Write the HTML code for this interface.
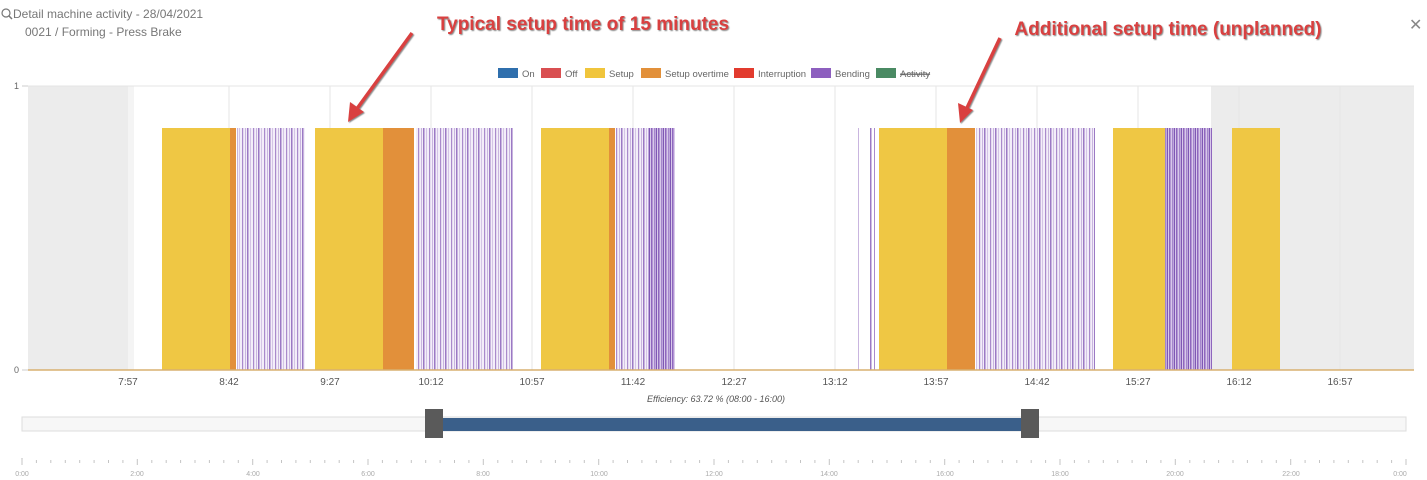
<!DOCTYPE html>
<html><head><meta charset="utf-8"><style>
body{margin:0;background:#fff;width:1427px;height:480px;overflow:hidden;font-family:"Liberation Sans",sans-serif;}
svg{position:absolute;left:0;top:0}
</style></head><body>
<svg width="1427" height="480" viewBox="0 0 1427 480">
<defs>
<pattern id="p1" width="11" height="10" patternUnits="userSpaceOnUse">
<rect width="11" height="10" fill="#f3eef9"/>
<rect x="0" width="1.2" height="10" fill="#a98acb"/>
<rect x="3" width="1" height="10" fill="#c9b5df"/>
<rect x="5" width="1.5" height="10" fill="#9b79c4"/>
<rect x="8" width="1" height="10" fill="#d4c4e6"/>
</pattern>
<pattern id="p2" width="7" height="10" patternUnits="userSpaceOnUse">
<rect width="7" height="10" fill="#d8c8ea"/>
<rect x="0" width="1.5" height="10" fill="#8e66bd"/>
<rect x="3" width="1.5" height="10" fill="#a586cc"/>
<rect x="5" width="1" height="10" fill="#7f58b4"/>
</pattern>
<filter id="sh"><feDropShadow dx="1" dy="1" stdDeviation="0.6" flood-color="#888"/></filter>
</defs>
<!-- header -->
<circle cx="6" cy="13" r="4" fill="none" stroke="#777" stroke-width="1.2"/><line x1="9" y1="16" x2="12" y2="19" stroke="#777" stroke-width="1.5"/>
<text x="13" y="18" font-size="12" fill="#777">Detail machine activity - 28/04/2021</text>
<text x="25" y="36" font-size="12" fill="#777">0021 / Forming - Press Brake</text>
<text x="1409" y="30" font-size="16" fill="#888">✕</text>
<!-- legend -->
<g font-size="9.5" fill="#666">
<rect x="498" y="68" width="20" height="10" fill="#2f6fad"/><text x="522" y="77">On</text>
<rect x="541" y="68" width="20" height="10" fill="#d94f51"/><text x="565" y="77">Off</text>
<rect x="585" y="68" width="20" height="10" fill="#f0c53c"/><text x="609" y="77">Setup</text>
<rect x="641" y="68" width="20" height="10" fill="#e2903a"/><text x="665" y="77">Setup overtime</text>
<rect x="734" y="68" width="20" height="10" fill="#e23b2e"/><text x="758" y="77">Interruption</text>
<rect x="811" y="68" width="20" height="10" fill="#8d5fbf"/><text x="835" y="77">Bending</text>
<rect x="876" y="68" width="20" height="10" fill="#4a8a63"/><text x="900" y="77" text-decoration="line-through">Activity</text>
<line x1="900" y1="74" x2="930" y2="74" stroke="#666" stroke-width="0.8"/>
</g>
<!-- plot bg -->
<rect x="28" y="86" width="100" height="284" fill="#ececec"/>
<rect x="128" y="86" width="6" height="284" fill="#f4f4f4"/>
<rect x="1211" y="86" width="203" height="284" fill="#ececec"/>
<line x1="28" y1="86" x2="1414" y2="86" stroke="#e4e4e4"/>
<g stroke="#e6e6e6">
<line x1="229" y1="86" x2="229" y2="370"/><line x1="330" y1="86" x2="330" y2="370"/><line x1="431" y1="86" x2="431" y2="370"/><line x1="532" y1="86" x2="532" y2="370"/><line x1="633" y1="86" x2="633" y2="370"/><line x1="734" y1="86" x2="734" y2="370"/><line x1="835" y1="86" x2="835" y2="370"/><line x1="936" y1="86" x2="936" y2="370"/><line x1="1037" y1="86" x2="1037" y2="370"/><line x1="1138" y1="86" x2="1138" y2="370"/><line x1="1239" y1="86" x2="1239" y2="370"/><line x1="1340" y1="86" x2="1340" y2="370"/>
</g>
<!-- bars -->
<g>
<rect x="162" y="128" width="68" height="242" fill="#efc744"/><rect x="230" y="128" width="6" height="242" fill="#e2903a"/>
<rect x="237" y="128" width="68" height="242" fill="url(#p1)"/>
<rect x="315" y="128" width="68" height="242" fill="#efc744"/><rect x="383" y="128" width="31" height="242" fill="#e2903a"/>
<rect x="416" y="128" width="97" height="242" fill="url(#p1)"/>
<rect x="541" y="128" width="68" height="242" fill="#efc744"/><rect x="609" y="128" width="6" height="242" fill="#e2903a"/>
<rect x="616" y="128" width="32" height="242" fill="url(#p1)"/><rect x="648" y="128" width="27" height="242" fill="url(#p2)"/>
<rect x="858" y="128" width="1" height="242" fill="#c9b5df"/><rect x="870" y="128" width="1.5" height="242" fill="#9b79c4"/><rect x="874" y="128" width="1" height="242" fill="#a98acb"/>
<rect x="879" y="128" width="68" height="242" fill="#efc744"/><rect x="947" y="128" width="28" height="242" fill="#e2903a"/>
<rect x="976" y="128" width="119" height="242" fill="url(#p1)"/>
<rect x="1113" y="128" width="52" height="242" fill="#efc744"/>
<rect x="1165" y="128" width="47" height="242" fill="url(#p2)"/>
<rect x="1232" y="128" width="48" height="242" fill="#efc744"/>
</g>
<line x1="28" y1="370" x2="1414" y2="370" stroke="#d8b070" stroke-width="1.5"/>
<g font-size="9" fill="#666"><text x="14" y="89">1</text><text x="14" y="373">0</text></g>
<line x1="22" y1="86" x2="28" y2="86" stroke="#ccc"/><line x1="22" y1="370" x2="28" y2="370" stroke="#ccc"/>
<g font-size="10" fill="#555" text-anchor="middle">
<text x="128" y="385">7:57</text><text x="229" y="385">8:42</text><text x="330" y="385">9:27</text><text x="431" y="385">10:12</text><text x="532" y="385">10:57</text><text x="633" y="385">11:42</text><text x="734" y="385">12:27</text><text x="835" y="385">13:12</text><text x="936" y="385">13:57</text><text x="1037" y="385">14:42</text><text x="1138" y="385">15:27</text><text x="1239" y="385">16:12</text><text x="1340" y="385">16:57</text>
</g>
<text x="716" y="402" font-size="9" fill="#555" font-style="italic" text-anchor="middle">Efficiency: 63.72 % (08:00 - 16:00)</text>
<!-- navigator -->
<rect x="22" y="417" width="1384" height="14" fill="#f7f7f7" stroke="#ddd"/>
<rect x="443" y="418" width="578" height="13" fill="#3a5f8a"/>
<rect x="425" y="409" width="18" height="29" fill="#5a5a5a"/>
<rect x="1021" y="409" width="18" height="29" fill="#5a5a5a"/>
<g id="ticks" stroke="#bbb"></g>
<path d="M22 458v6 M22 458" stroke="#bbb"/>
<g stroke="#c4c4c4" stroke-width="1">
<path d="M22 459v6M36.4 460v3M50.8 460v3M65.3 460v3M79.7 460v3M94.1 460v3M108.5 460v3M122.9 460v3M137.3 459v6M151.8 460v3M166.2 460v3M180.6 460v3M195 460v3M209.4 460v3M223.8 460v3M238.3 460v3M252.7 459v6M267.1 460v3M281.5 460v3M295.9 460v3M310.3 460v3M324.8 460v3M339.2 460v3M353.6 460v3M368 459v6M382.4 460v3M396.8 460v3M411.3 460v3M425.7 460v3M440.1 460v3M454.5 460v3M468.9 460v3M483.3 459v6M497.8 460v3M512.2 460v3M526.6 460v3M541 460v3M555.4 460v3M569.8 460v3M584.3 460v3M598.7 459v6M613.1 460v3M627.5 460v3M641.9 460v3M656.3 460v3M670.8 460v3M685.2 460v3M699.6 460v3M714 459v6M728.4 460v3M742.8 460v3M757.3 460v3M771.7 460v3M786.1 460v3M800.5 460v3M814.9 460v3M829.3 459v6M843.8 460v3M858.2 460v3M872.6 460v3M887 460v3M901.4 460v3M915.8 460v3M930.3 460v3M944.7 459v6M959.1 460v3M973.5 460v3M987.9 460v3M1002.3 460v3M1016.8 460v3M1031.2 460v3M1045.6 460v3M1060 459v6M1074.4 460v3M1088.8 460v3M1103.3 460v3M1117.7 460v3M1132.1 460v3M1146.5 460v3M1160.9 460v3M1175.3 459v6M1189.8 460v3M1204.2 460v3M1218.6 460v3M1233 460v3M1247.4 460v3M1261.8 460v3M1276.3 460v3M1290.7 459v6M1305.1 460v3M1319.5 460v3M1333.9 460v3M1348.3 460v3M1362.8 460v3M1377.2 460v3M1391.6 460v3M1406 459v6"/>
</g>
<g font-size="7" fill="#aaa" text-anchor="middle">
<text x="22" y="476">0:00</text><text x="137" y="476">2:00</text><text x="253" y="476">4:00</text><text x="368" y="476">6:00</text><text x="483" y="476">8:00</text><text x="599" y="476">10:00</text><text x="714" y="476">12:00</text><text x="829" y="476">14:00</text><text x="945" y="476">16:00</text><text x="1060" y="476">18:00</text><text x="1175" y="476">20:00</text><text x="1291" y="476">22:00</text><text x="1400" y="476">0:00</text>
</g>
<!-- annotations -->
<g font-size="19" font-weight="bold" fill="#d9413f" filter="url(#sh)" text-anchor="middle">
<text x="583" y="30">Typical setup time of 15 minutes</text>
<text x="1168" y="35">Additional setup time (unplanned)</text>
</g>
<g stroke="#d9413f" stroke-width="3.5" fill="#d9413f" filter="url(#sh)">
<line x1="412" y1="33" x2="356" y2="110"/>
<polygon points="348,122 350,102 364,112" stroke="none"/>
<line x1="1000" y1="38" x2="966" y2="110"/>
<polygon points="960,123 958,103 973,110" stroke="none"/>
</g>
</svg>
</body></html>
